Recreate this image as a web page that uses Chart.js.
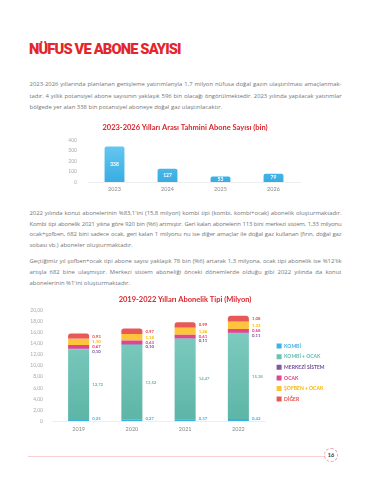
<!DOCTYPE html>
<html lang="tr">
<head>
<meta charset="utf-8">
<script src="https://cdn.jsdelivr.net/npm/chart.js@4.4.1/dist/chart.umd.min.js"></script>
<style>
  html, body { margin: 0; padding: 0; background: #fff; }
  body { width: 370px; height: 480px; position: relative; overflow: hidden; font-family: Lato, "Noto Sans", sans-serif; }
  h1 { position: absolute; left: 29px; top: 40px; margin: 0; line-height: 15px; font: 900 14.7px Roboto, sans-serif; letter-spacing: -0.85px; color: #e3262c; white-space: nowrap; }
  .line { position: absolute; left: 29.5px; height: 8px; line-height: 8px; font-family: "Open Sans", sans-serif; font-size: 5.95px; color: #767676; white-space: nowrap; }
  canvas { position: absolute; left: 0; }
  #rule { position: absolute; left: 28px; top: 456px; width: 297px; height: 1px; background: #f7d0d2; }
  #page { position: absolute; left: 324px; top: 448px; width: 14px; height: 14px; box-sizing: border-box; border: 1px dashed #ee9fa3; border-radius: 50%; background: #fff; font: bold 5.5px Lato, sans-serif; color: #333; text-align: center; line-height: 12px; }
</style>
</head>
<body>
<h1>NÜFUS VE ABONE SAYISI</h1>
<div id="text"></div>
<canvas id="aboneChart" width="370" height="76" style="top:118px"></canvas>
<canvas id="tipChart" width="370" height="150" style="top:288px"></canvas>
<div id="rule"></div>
<div id="page">16</div>
<script>
// metin satırları (y = satır ortası)
const paragraphs = [
  { y: [84, 95.5, 107], lines: [
    '2023-2026 yıllarında planlanan genişleme yatırımlarıyla 1,7 milyon nüfusa doğal gazın ulaştırılması amaçlanmak-',
    'tadır. 4 yıllık potansiyel abone sayısının yaklaşık 596 bin olacağı öngörülmektedir. 2023 yılında yapılacak yatırımlar',
    'bölgede yer alan 338 bin potansiyel aboneye doğal gaz ulaştırılacaktır.'
  ]},
  { y: [213, 223.5, 234, 244.5], lines: [
    "2022 yılında konut abonelerinin %83,1'ini (15,8 milyon) kombi tipi (kombi, kombi+ocak) abonelik oluşturmaktadır.",
    'Kombi tipi abonelik 2021 yılına göre 920 bin (%6) artmıştır. Geri kalan abonelerin 113 bini merkezi sistem, 1,33 milyonu',
    'ocak+şofben, 682 bini sadece ocak, geri kalan 1 milyonu nu ise diğer amaçlar ile doğal gaz kullanan (fırın, doğal gaz',
    'sobası vb.) aboneler oluşturmaktadır.'
  ]},
  { y: [261, 272, 283], lines: [
    "Geçtiğimiz yıl şofben+ocak tipi abone sayısı yaklaşık 78 bin (%6) artarak 1,3 milyona, ocak tipi abonelik ise %12'lik",
    'artışla 682 bine ulaşmıştır. Merkezi sistem aboneliği önceki dönemlerde olduğu gibi 2022 yılında da konut',
    "abonelerinin %1'ini oluşturmaktadır."
  ]}
];

const textBox = document.getElementById('text');
paragraphs.forEach(p => {
  p.lines.forEach((t, i) => {
    const d = document.createElement('div');
    d.className = 'line';
    d.style.top = (p.y[i] - 4) + 'px';
    d.textContent = t;
    textBox.appendChild(d);
    if (i < p.lines.length - 1) {
      // iki yana yasla; sığmayan satırda harf aralığını biraz daralt
      const gaps = t.split(' ').length - 1;
      let w = d.getBoundingClientRect().width;
      const ls = Math.min(0, (312 - w - 0.4 * gaps) / t.length);
      if (ls < 0) {
        d.style.letterSpacing = ls + 'px';
        w = d.getBoundingClientRect().width;
      }
      d.style.wordSpacing = ((312 - w) / gaps) + 'px';
    }
  });
});

// Grafik 1: 2023-2026 tahmini abone sayısı (bin)
const yearsA = ['2023', '2024', '2025', '2026'];
const aboneA = [338, 127, 53, 79];
const ticksA = [0, 100, 200, 300, 400];

// Grafik 2: 2019-2022 abonelik tipi (milyon)
const yearsB = ['2019', '2020', '2021', '2022'];
const kombi = [0.25, 0.27, 0.37, 0.42];
const kombiOcak = [12.72, 13.52, 14.47, 15.38];
const merkezi = [0.10, 0.10, 0.11, 0.11];
const ocak = [0.67, 0.63, 0.61, 0.68];
const sofbenOcak = [1.10, 1.18, 1.26, 1.33];
const diger = [0.93, 0.97, 0.99, 1.08];
const tipNames = ['KOMBİ', 'KOMBİ + OCAK', 'MERKEZİ SİSTEM', 'OCAK', 'ŞOFBEN + OCAK', 'DİĞER'];
const tipColors = ['#3fb1e5', '#6cc2b4', '#7c58a6', '#e2468a', '#fdc43c', '#e85858'];
const tipTextColors = ['#3fb1e5', '#5fbbad', '#6f4a9c', '#e0367f', '#f5b400', '#e24848'];

const titleRed = '#d8262e';
const fmt = v => v.toFixed(2).replace('.', ',');

function vGradient(top, bottom) {
  return ctx => {
    const area = ctx.chart.chartArea;
    if (!area) return bottom;
    const g = ctx.chart.ctx.createLinearGradient(0, area.top, 0, area.bottom);
    g.addColorStop(0, top);
    g.addColorStop(1, bottom);
    return g;
  };
}

// boş sağ eksen: grafik alanını daraltır, başlık tuvalin ortasında kalır
const spacerAxis = (w, weight) => ({
  position: 'right',
  weight: weight || 0,
  grid: { display: false },
  border: { display: false },
  ticks: { display: false },
  afterFit: s => { s.width = w; }
});

const insideLabels = {
  id: 'insideLabels',
  afterDatasetsDraw(chart) {
    const ctx = chart.ctx;
    ctx.save();
    ctx.fillStyle = '#fff';
    ctx.font = 'bold 5px Lato';
    ctx.textAlign = 'center';
    ctx.textBaseline = 'middle';
    chart.getDatasetMeta(0).data.forEach((bar, i) => {
      ctx.fillText(aboneA[i], bar.x, (bar.y + bar.base) / 2);
    });
    ctx.restore();
  }
};

new Chart(document.getElementById('aboneChart'), {
  type: 'bar',
  data: {
    labels: yearsA,
    datasets: [{
      data: aboneA,
      backgroundColor: vGradient('#6ccbf2', '#38ade3'),
      borderRadius: { topLeft: 2, topRight: 2 },
      borderSkipped: 'bottom',
      barPercentage: 0.75,
      categoryPercentage: 0.5
    }]
  },
  options: {
    responsive: false,
    animation: false,
    layout: { padding: 0 },
    plugins: {
      legend: { display: false },
      tooltip: { enabled: false },
      title: {
        display: true,
        text: '2023-2026 Yılları Arası Tahmini Abone Sayısı (bin)',
        color: titleRed,
        font: { family: 'Lato', size: 7.5, weight: 'bold' },
        padding: { top: 5, bottom: 8 }
      }
    },
    scales: {
      x: {
        grid: { display: false, drawTicks: false },
        border: { display: true, color: '#eeeeee' },
        ticks: { color: '#888', font: { family: 'Lato', size: 5.5 }, padding: 3.5 },
        afterFit: s => { s.height = 12; }
      },
      y: {
        min: 0, max: 400,
        afterBuildTicks: s => { s.ticks = ticksA.map(v => ({ value: v })); },
        ticks: { color: '#aaa', font: { family: 'Lato', size: 5 }, padding: 3 },
        grid: { display: false },
        border: { display: false },
        afterFit: s => { s.width = 88; }
      },
      y2: spacerAxis(70)
    }
  },
  plugins: [insideLabels]
});

const sideLabels = {
  id: 'sideLabels',
  afterDatasetsDraw(chart) {
    const ctx = chart.ctx;
    ctx.save();
    ctx.font = 'bold 4.3px Lato';
    ctx.textAlign = 'left';
    ctx.textBaseline = 'middle';
    const metas = [0, 1, 2, 3, 4, 5].map(d => chart.getDatasetMeta(d));
    yearsB.forEach((y, i) => {
      const put = (d, yy) => {
        const bar = metas[d].data[i];
        ctx.fillStyle = tipTextColors[d];
        ctx.fillText(fmt(chart.data.datasets[d].data[i]), bar.x + bar.width / 2 + 3, yy);
      };
      const b0 = metas[0].data[i];
      put(0, b0.base - 3);
      const b1 = metas[1].data[i];
      put(1, (b1.y + b1.base) / 2);
      let prev = -Infinity;
      [5, 4, 3, 2].forEach(d => {
        const bar = metas[d].data[i];
        const yy = Math.max((bar.y + bar.base) / 2, prev + 4.6);
        put(d, yy);
        prev = yy;
      });
    });
    ctx.restore();
  }
};

const tipData = [kombi, kombiOcak, merkezi, ocak, sofbenOcak, diger];
const tipFills = [
  vGradient('#55bdea', '#3aafe4'),
  vGradient('#86d0c6', '#5cb5a6'),
  tipColors[2], tipColors[3], tipColors[4], tipColors[5]
];

new Chart(document.getElementById('tipChart'), {
  type: 'bar',
  data: {
    labels: yearsB,
    datasets: tipData.map((d, k) => ({
      label: tipNames[k],
      data: d,
      backgroundColor: tipFills[k],
      borderWidth: 0,
      borderRadius: k === 5 ? { topLeft: 3, topRight: 3 } : 0,
      borderSkipped: 'bottom',
      barPercentage: 0.79,
      categoryPercentage: 0.5
    }))
  },
  options: {
    responsive: false,
    animation: false,
    layout: { padding: 0 },
    plugins: {
      tooltip: { enabled: false },
      title: {
        display: true,
        text: '2019-2022 Yılları Abonelik Tipi (Milyon)',
        color: titleRed,
        font: { family: 'Lato', size: 7.5, weight: 'bold' },
        padding: { top: 6.9, bottom: 6.2 }
      },
      legend: {
        position: 'right',
        align: 'start',
        fullSize: false,
        maxWidth: 55,
        title: { display: true, text: '', font: { size: 10 }, padding: { top: 15.9, bottom: 0 } },
        labels: {
          boxWidth: 5, boxHeight: 5, padding: 5.6,
          font: { family: 'Lato', size: 5, weight: 'bold' },
          generateLabels: () => tipNames.map((n, k) => ({
            text: n, fillStyle: tipColors[k], strokeStyle: tipColors[k],
            fontColor: tipTextColors[k], lineWidth: 0, datasetIndex: k, hidden: false
          }))
        }
      }
    },
    scales: {
      x: {
        stacked: true,
        grid: { display: false, drawTicks: false },
        border: { display: true, color: '#eeeeee' },
        ticks: { color: '#888', font: { family: 'Lato', size: 5.5 }, padding: 4.4 },
        afterFit: s => { s.height = 16.7; }
      },
      y: {
        stacked: true,
        min: 0, max: 20,
        ticks: { stepSize: 2, color: '#aaa', font: { family: 'Lato', size: 5 }, padding: 1,
          callback: v => v === 0 ? '0' : fmt(v) },
        grid: { display: false },
        border: { display: false },
        afterFit: s => { s.width = 52; }
      },
      y2: spacerAxis(6),
      y3: spacerAxis(44, 2000)
    }
  },
  plugins: [sideLabels]
});
</script>
</body>
</html>
